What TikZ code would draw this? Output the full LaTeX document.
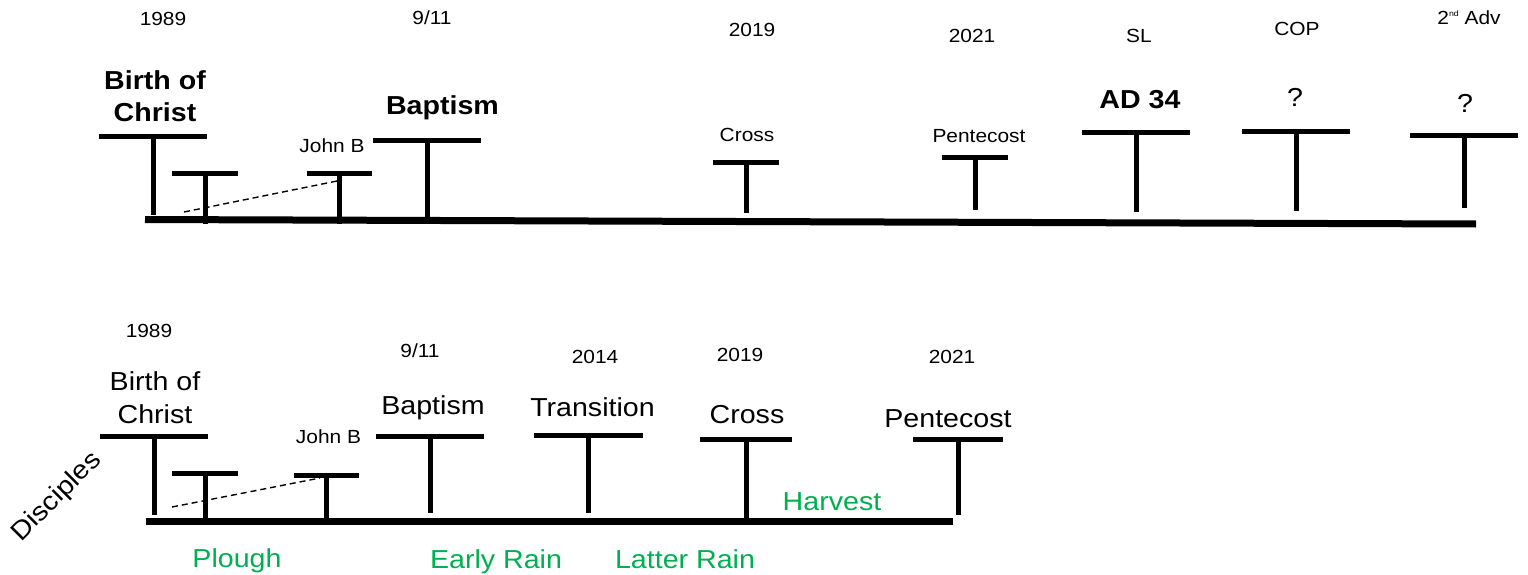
\documentclass[tikz,border=0pt]{standalone}
\usepackage{fontspec}
\setmainfont{Liberation Sans}[FakeStretch=1.1]
\definecolor{pptgreen}{RGB}{0,176,80}
\tikzset{
  bar/.style={line width=5pt},
  stem/.style={line width=5pt},
  axis/.style={line width=7pt},
  guide/.style={line width=1.4pt, dash pattern=on 6pt off 4pt},
  lbl/.style={inner sep=0pt, anchor=base, align=center},
  yr/.style={lbl, font=\fontsize{19}{22}\selectfont},
  small/.style={lbl, font=\fontsize{19}{22}\selectfont},
  bigb/.style={lbl, font=\fontsize{26}{32}\selectfont\bfseries},
  big/.style={lbl, font=\fontsize{26}{32}\selectfont},
  grn/.style={lbl, font=\fontsize{26}{32}\selectfont, text=pptgreen},
}
\newcommand{\tee}[5]{% name, x, ybar, halfwidth, ybottom
  \coordinate (#1-l) at (#2-#4,#3);
  \coordinate (#1-r) at (#2+#4,#3);
  \coordinate (#1-t) at (#2,#3);
  \coordinate (#1-b) at (#2,#5);
  \draw[bar] (#1-l) -- (#1-r);
  \draw[stem] (#1-t) -- (#1-b);
}
\begin{document}
\begin{tikzpicture}[x=1pt,y=-1pt]
\useasboundingbox (0,0) rectangle (1528,575);
% ---------------- top timeline ----------------
\coordinate (ta) at (145,219.5);
\coordinate (tb) at (1476,224);
\draw[axis] (ta) -- (tb);
\tee{t1}{153}{137}{54}{215}
\tee{t2}{205}{173}{33}{224}
\tee{t3}{339.5}{173}{32.5}{224}
\tee{t4}{427}{141}{54}{219}
\tee{t5}{746}{162}{33}{213}
\tee{t6}{975}{157}{33}{210}
\tee{t7}{1136}{133}{54}{212}
\tee{t8}{1296}{132}{54}{211}
\tee{t9}{1464}{136}{54}{208}
\coordinate (td1) at (184,212);
\coordinate (td2) at (342,180);
\draw[guide] (td1) -- (td2);
\node[yr] (ty1) at (163,26) {1989};
\node[yr] (ty2) at (432,25) {9/11};
\node[yr] (ty3) at (752,36.5) {2019};
\node[yr] (ty4) at (972,42.5) {2021};
\node[yr] (ty5) at (1139,42.5) {SL};
\node[yr] (ty6) at (1297,36) {COP};
\node[yr] (ty7) at (1469,25) {2\raisebox{0.45em}{\fontsize{8}{8}\selectfont nd} Adv};
\node[bigb] (tl1a) at (155,90) {Birth of};
\node[bigb] (tl1b) at (155,122) {Christ};
\node[bigb] (tl4) at (442.5,115) {Baptism};
\node[small] (tl3) at (332,152) {John B};
\node[small] (tl5) at (747,142) {Cross};
\node[small] (tl6) at (979,142.5) {Pentecost};
\node[bigb] (tl7) at (1140,109) {AD 34};
\node[big] (tl8) at (1295,107) {?};
\node[big] (tl9) at (1465,113) {?};
% ---------------- bottom timeline ----------------
\coordinate (ba) at (146,521);
\coordinate (bb) at (953,521);
\draw[axis] (ba) -- (bb);
\tee{b1}{154}{436}{54}{515}
\tee{b2}{205}{473}{33}{523}
\tee{b3}{326.5}{475}{32.5}{521}
\tee{b4}{430}{436}{54}{513}
\tee{b5}{588.5}{435}{54.5}{513}
\tee{b6}{746}{439}{46}{521}
\tee{b7}{958}{439}{45}{515}
\coordinate (bd1) at (172,507);
\coordinate (bd2) at (320,478);
\draw[guide] (bd1) -- (bd2);
\node[yr] (by1) at (149,337) {1989};
\node[yr] (by2) at (420,357) {9/11};
\node[yr] (by3) at (595,363) {2014};
\node[yr] (by4) at (740,361) {2019};
\node[yr] (by5) at (952,363) {2021};
\node[big] (bl1a) at (155,390) {Birth of};
\node[big] (bl1b) at (155,423) {Christ};
\node[small] (bl3) at (328.5,443) {John B};
\node[big] (bl4) at (433,414) {Baptism};
\node[big] (bl5) at (592.5,416) {Transition};
\node[big] (bl6) at (747,423) {Cross};
\node[big] (bl7) at (948,427) {Pentecost};
\node[grn] (g1) at (832,510) {Harvest};
\node[grn] (g2) at (237,567) {Plough};
\node[grn] (g3) at (496,568) {Early Rain};
\node[grn] (g4) at (685,568) {Latter Rain};
\node[inner sep=0pt, font=\fontsize{26}{32}\selectfont, rotate=45] (disc) at (57,497) {Disciples};
\end{tikzpicture}
\end{document}
